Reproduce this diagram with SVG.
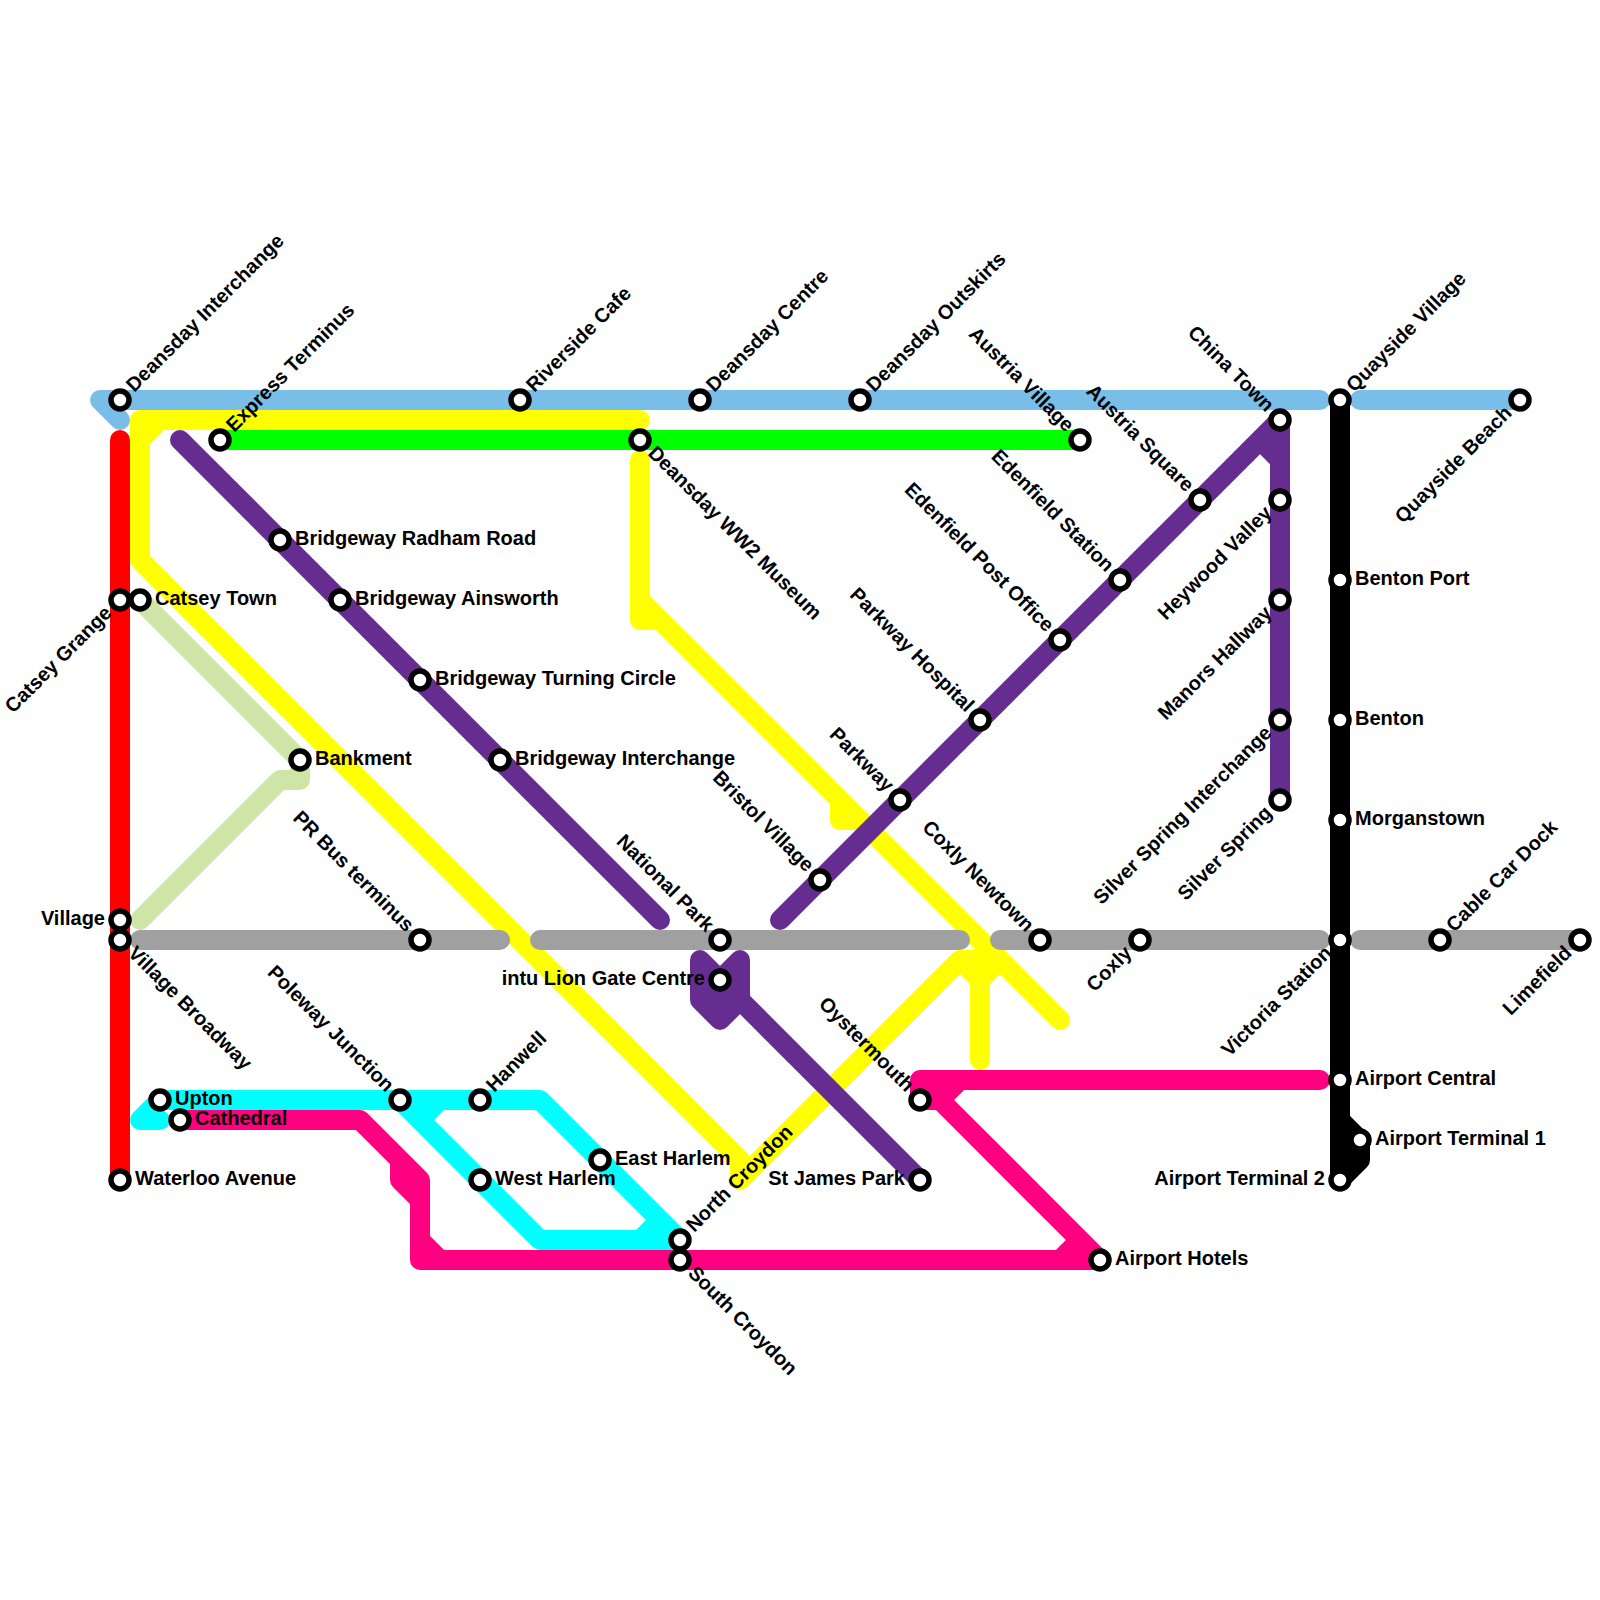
<svg xmlns="http://www.w3.org/2000/svg" width="1600" height="1600" viewBox="0 0 1600 1600">
<style>
.l{fill:none;stroke-width:20;stroke-linecap:round;stroke-linejoin:round}
.st{fill:#fff;stroke:#000;stroke-width:5.5}
text{font-family:"Liberation Sans",Arial,sans-serif;font-weight:700;font-size:20px;fill:#000}
.e{text-anchor:end}
</style>
<rect width="1600" height="1600" fill="#fff"/>
<g id="connectors">
<path class="l" stroke="#ffff00" d="M640 420H140V560L740 1160V1180L960 960H1000L980 980V1060M960 960L980 980M140 440L160 420"/>
<path class="l" stroke="#ffff00" d="M640 460V620H660L840 800V820H860L1060 1020M640 600L660 620M840 800L860 820"/>
<path class="l" stroke="#79bde9" d="M120 420L100 400H1320M1360 400H1520"/>
<path class="l" stroke="#ff0000" d="M120 440V1180"/>
<path class="l" stroke="#00ff00" d="M220 440H1080"/>
<path class="l" stroke="#cfe5a8" d="M140 600L300 760V780H280L140 920"/>
<path class="l" stroke="#a0a0a0" d="M140 940H500M540 940H960M1000 940H1320M1360 940H1580"/>
<path class="l" stroke="#662d91" d="M180 440L660 920M780 920L1280 420V800M1260 440L1280 460M920 1180L720 980"/>
<path class="l" stroke="#662d91" style="fill:#662d91" d="M700 960L720 980L740 960V1000L720 1020L700 1000Z"/>
<path class="l" stroke="#00ffff" d="M160 1120H140L160 1100H540L680 1240H540L400 1100M420 1120L440 1100M640 1240L660 1220"/>
<path class="l" stroke="#ff0080" d="M180 1120H360L420 1180V1260H1100M400 1160V1180L420 1200M420 1240L440 1260"/>
<path class="l" stroke="#ff0080" d="M1320 1080H920V1100H940L1100 1260M940 1100L960 1080M1060 1260L1080 1240"/>
<path class="l" stroke="#000" d="M1340 400V1180"/>
<path class="l" stroke="#000" style="fill:#000" d="M1340 1120L1360 1140V1160L1340 1180Z"/>
</g>
<g id="n1" transform="translate(120 400)"><circle class="st" r="9"/><text x="15" y="5" transform="rotate(-45)">Deansday Interchange</text></g>
<g id="n2" transform="translate(220 440)"><circle class="st" r="9"/><text x="15" y="5" transform="rotate(-45)">Express Terminus</text></g>
<g id="n3" transform="translate(520 400)"><circle class="st" r="9"/><text x="15" y="5" transform="rotate(-45)">Riverside Cafe</text></g>
<g id="n4" transform="translate(700 400)"><circle class="st" r="9"/><text x="15" y="5" transform="rotate(-45)">Deansday Centre</text></g>
<g id="n5" transform="translate(860 400)"><circle class="st" r="9"/><text x="15" y="5" transform="rotate(-45)">Deansday Outskirts</text></g>
<g id="n6" transform="translate(480 1100)"><circle class="st" r="9"/><text x="15" y="5" transform="rotate(-45)">Hanwell</text></g>
<g id="n7" transform="translate(680 1240)"><circle class="st" r="9"/><text x="15" y="5" transform="rotate(-45)">North Croydon</text></g>
<g id="n8" transform="translate(1340 400)"><circle class="st" r="9"/><text x="15" y="5" transform="rotate(-45)">Quayside Village</text></g>
<g id="n9" transform="translate(1440 940)"><circle class="st" r="9"/><text x="15" y="5" transform="rotate(-45)">Cable Car Dock</text></g>
<g id="n10" transform="translate(120 600)"><circle class="st" r="9"/><text class="e" x="-15" y="5" transform="rotate(-45)">Catsey Grange</text></g>
<g id="n11" transform="translate(1280 500)"><circle class="st" r="9"/><text class="e" x="-15" y="5" transform="rotate(-45)">Heywood Valley</text></g>
<g id="n12" transform="translate(1280 600)"><circle class="st" r="9"/><text class="e" x="-15" y="5" transform="rotate(-45)">Manors Hallway</text></g>
<g id="n13" transform="translate(1280 720)"><circle class="st" r="9"/><text class="e" x="-15" y="5" transform="rotate(-45)">Silver Spring Interchange</text></g>
<g id="n14" transform="translate(1280 800)"><circle class="st" r="9"/><text class="e" x="-15" y="5" transform="rotate(-45)">Silver Spring</text></g>
<g id="n15" transform="translate(1520 400)"><circle class="st" r="9"/><text class="e" x="-15" y="5" transform="rotate(-45)">Quayside Beach</text></g>
<g id="n16" transform="translate(1340 940)"><circle class="st" r="9"/><text class="e" x="-15" y="5" transform="rotate(-45)">Victoria Station</text></g>
<g id="n17" transform="translate(1580 940)"><circle class="st" r="9"/><text class="e" x="-15" y="5" transform="rotate(-45)">Limefield</text></g>
<g id="n18" transform="translate(1140 940)"><circle class="st" r="9"/><text class="e" x="-15" y="5" transform="rotate(-45)">Coxly</text></g>
<g id="n19" transform="translate(640 440)"><circle class="st" r="9"/><text x="15" y="5" transform="rotate(45)">Deansday WW2 Museum</text></g>
<g id="n20" transform="translate(120 940)"><circle class="st" r="9"/><text x="15" y="5" transform="rotate(45)">Village Broadway</text></g>
<g id="n21" transform="translate(680 1260)"><circle class="st" r="9"/><text x="15" y="5" transform="rotate(45)">South Croydon</text></g>
<g id="n22" transform="translate(1080 440)"><circle class="st" r="9"/><text class="e" x="-15" y="5" transform="rotate(45)">Austria Village</text></g>
<g id="n23" transform="translate(1280 420)"><circle class="st" r="9"/><text class="e" x="-15" y="5" transform="rotate(45)">China Town</text></g>
<g id="n24" transform="translate(1200 500)"><circle class="st" r="9"/><text class="e" x="-15" y="5" transform="rotate(45)">Austria Square</text></g>
<g id="n25" transform="translate(1120 580)"><circle class="st" r="9"/><text class="e" x="-15" y="5" transform="rotate(45)">Edenfield Station</text></g>
<g id="n26" transform="translate(1060 640)"><circle class="st" r="9"/><text class="e" x="-15" y="5" transform="rotate(45)">Edenfield Post Office</text></g>
<g id="n27" transform="translate(980 720)"><circle class="st" r="9"/><text class="e" x="-15" y="5" transform="rotate(45)">Parkway Hospital</text></g>
<g id="n28" transform="translate(900 800)"><circle class="st" r="9"/><text class="e" x="-15" y="5" transform="rotate(45)">Parkway</text></g>
<g id="n29" transform="translate(820 880)"><circle class="st" r="9"/><text class="e" x="-15" y="5" transform="rotate(45)">Bristol Village</text></g>
<g id="n30" transform="translate(1040 940)"><circle class="st" r="9"/><text class="e" x="-15" y="5" transform="rotate(45)">Coxly Newtown</text></g>
<g id="n31" transform="translate(720 940)"><circle class="st" r="9"/><text class="e" x="-15" y="5" transform="rotate(45)">National Park</text></g>
<g id="n32" transform="translate(420 940)"><circle class="st" r="9"/><text class="e" x="-15" y="5" transform="rotate(45)">PR Bus terminus</text></g>
<g id="n33" transform="translate(400 1100)"><circle class="st" r="9"/><text class="e" x="-15" y="5" transform="rotate(45)">Poleway Junction</text></g>
<g id="n34" transform="translate(920 1100)"><circle class="st" r="9"/><text class="e" x="-15" y="5" transform="rotate(45)">Oystermouth</text></g>
<g id="n35" transform="translate(140 600)"><circle class="st" r="9"/><text x="15" y="5">Catsey Town</text></g>
<g id="n36" transform="translate(280 540)"><circle class="st" r="9"/><text x="15" y="5">Bridgeway Radham Road</text></g>
<g id="n37" transform="translate(340 600)"><circle class="st" r="9"/><text x="15" y="5">Bridgeway Ainsworth</text></g>
<g id="n38" transform="translate(420 680)"><circle class="st" r="9"/><text x="15" y="5">Bridgeway Turning Circle</text></g>
<g id="n39" transform="translate(500 760)"><circle class="st" r="9"/><text x="15" y="5">Bridgeway Interchange</text></g>
<g id="n40" transform="translate(300 760)"><circle class="st" r="9"/><text x="15" y="5">Bankment</text></g>
<g id="n41" transform="translate(160 1100)"><circle class="st" r="9"/><text x="15" y="5">Upton</text></g>
<g id="n42" transform="translate(180 1120)"><circle class="st" r="9"/><text x="15" y="5">Cathedral</text></g>
<g id="n43" transform="translate(120 1180)"><circle class="st" r="9"/><text x="15" y="5">Waterloo Avenue</text></g>
<g id="n44" transform="translate(480 1180)"><circle class="st" r="9"/><text x="15" y="5">West Harlem</text></g>
<g id="n45" transform="translate(600 1160)"><circle class="st" r="9"/><text x="15" y="5">East Harlem</text></g>
<g id="n46" transform="translate(1100 1260)"><circle class="st" r="9"/><text x="15" y="5">Airport Hotels</text></g>
<g id="n47" transform="translate(1340 580)"><circle class="st" r="9"/><text x="15" y="5">Benton Port</text></g>
<g id="n48" transform="translate(1340 720)"><circle class="st" r="9"/><text x="15" y="5">Benton</text></g>
<g id="n49" transform="translate(1340 820)"><circle class="st" r="9"/><text x="15" y="5">Morganstown</text></g>
<g id="n50" transform="translate(1340 1080)"><circle class="st" r="9"/><text x="15" y="5">Airport Central</text></g>
<g id="n51" transform="translate(1360 1140)"><circle class="st" r="9"/><text x="15" y="5">Airport Terminal 1</text></g>
<g id="n52" transform="translate(120 920)"><circle class="st" r="9"/><text class="e" x="-15" y="5">Village</text></g>
<g id="n53" transform="translate(720 980)"><circle class="st" r="9"/><text class="e" x="-15" y="5">intu Lion Gate Centre</text></g>
<g id="n54" transform="translate(920 1180)"><circle class="st" r="9"/><text class="e" x="-15" y="5">St James Park</text></g>
<g id="n55" transform="translate(1340 1180)"><circle class="st" r="9"/><text class="e" x="-15" y="5">Airport Terminal 2</text></g>
</svg>
